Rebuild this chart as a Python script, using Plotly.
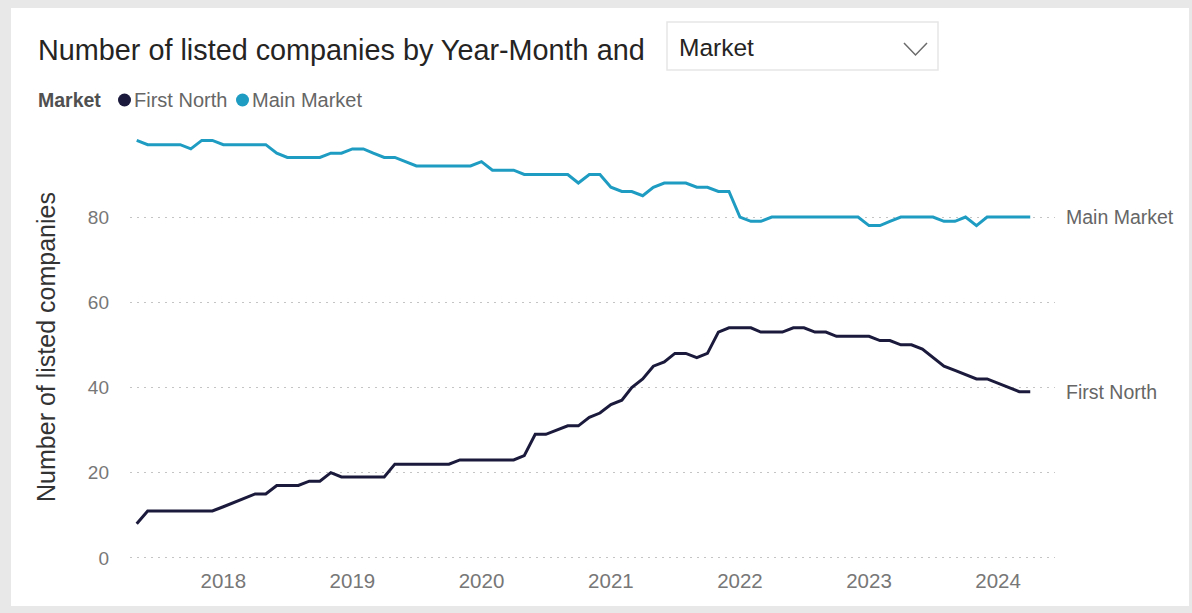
import pandas as pd
import plotly.graph_objects as go

# ---------------- data ----------------
months = pd.date_range("2017-05-01", periods=84, freq="MS")

first_north = [
    8, 11, 11, 11, 11, 11, 11, 11,                      # 2017 May-Dec
    12, 13, 14, 15, 15, 17, 17, 17, 18, 18, 20, 19,     # 2018
    19, 19, 19, 19, 22, 22, 22, 22, 22, 22, 23, 23,     # 2019
    23, 23, 23, 23, 24, 29, 29, 30, 31, 31, 33, 34,     # 2020
    36, 37, 40, 42, 45, 46, 48, 48, 47, 48, 53, 54,     # 2021
    54, 54, 53, 53, 53, 54, 54, 53, 53, 52, 52, 52,     # 2022
    52, 51, 51, 50, 50, 49, 47, 45, 44, 43, 42, 42,     # 2023
    41, 40, 39, 39,                                     # 2024 Jan-Apr
]

main_market = [
    98, 97, 97, 97, 97, 96, 98, 98,                     # 2017 May-Dec
    97, 97, 97, 97, 97, 95, 94, 94, 94, 94, 95, 95,     # 2018
    96, 96, 95, 94, 94, 93, 92, 92, 92, 92, 92, 92,     # 2019
    93, 91, 91, 91, 90, 90, 90, 90, 90, 88, 90, 90,     # 2020
    87, 86, 86, 85, 87, 88, 88, 88, 87, 87, 86, 86,     # 2021
    80, 79, 79, 80, 80, 80, 80, 80, 80, 80, 80, 80,     # 2022
    78, 78, 79, 80, 80, 80, 80, 79, 79, 80, 78, 80,     # 2023
    80, 80, 80, 80,                                     # 2024 Jan-Apr
]

series_names = ["First North", "Main Market"]
series_colors = ["#1b1a3c", "#1f9cc2"]

title_text = "Number of listed companies by Year-Month and"
dropdown_text = "Market"
legend_title = "Market"
y_title = "Number of listed companies"

# ---------------- layout geometry (pixels) ----------------
W, H = 1192, 613
ML, MR, MT, MB = 130, 137, 134, 53
PW, PH = W - ML - MR, H - MT - MB


def px(x):
    return (x - ML) / PW


def py(y):
    return (H - MB - y) / PH


FONT = "Liberation Sans, Arial, sans-serif"

fig = go.Figure()

for name, vals, col in zip(series_names, [first_north, main_market], series_colors):
    fig.add_trace(go.Scatter(
        x=months, y=vals, mode="lines", name=name,
        line=dict(color=col, width=3, shape="linear"),
        showlegend=False,
        hovertemplate="%{x|%Y %b}: %{y}<extra>" + name + "</extra>",
    ))
    # end-of-line label
    fig.add_annotation(
        x=months[-1], y=vals[-1], xref="x", yref="y",
        text=name, showarrow=False, xanchor="left", yanchor="middle",
        xshift=34, font=dict(family=FONT, size=19.5, color="#666666"),
    )

shapes = [
    # white card
    dict(type="rect", xref="paper", yref="paper", layer="below",
         x0=px(11), x1=px(1189), y0=py(606), y1=py(8),
         fillcolor="white", line=dict(width=0)),
    # dropdown box
    dict(type="rect", xref="paper", yref="paper", layer="below",
         x0=px(667), x1=px(938), y0=py(70), y1=py(22),
         fillcolor="white", line=dict(color="#e6e6e6", width=1.5)),
    # dropdown chevron
    dict(type="path", xref="paper", yref="paper",
         path=f"M {px(904)} {py(43)} L {px(915.5)} {py(55)} L {px(927)} {py(43)}",
         line=dict(color="#6b6b6b", width=1.5)),
]

annotations = [
    dict(x=px(36), y=py(50), xref="paper", yref="paper", text=title_text,
         showarrow=False, xanchor="left", yanchor="middle",
         font=dict(family=FONT, size=28.8, color="#252423")),
    dict(x=px(677), y=py(48), xref="paper", yref="paper", text=dropdown_text,
         showarrow=False, xanchor="left", yanchor="middle",
         font=dict(family=FONT, size=24.5, color="#252423")),
    dict(x=px(36), y=py(100), xref="paper", yref="paper",
         text="<b>" + legend_title + "</b>",
         showarrow=False, xanchor="left", yanchor="middle",
         font=dict(family=FONT, size=19.5, color="#505050")),
]

# legend items: coloured dot + name
legend_x = [118, 236]
for name, col, lx in zip(series_names, series_colors, legend_x):
    shapes.append(dict(type="circle", xref="paper", yref="paper",
                       x0=px(lx), x1=px(lx + 13), y0=py(106.5), y1=py(93.5),
                       fillcolor=col, line=dict(width=0)))
    annotations.append(dict(x=px(lx + 14), y=py(100), xref="paper", yref="paper",
                            text=name, showarrow=False, xanchor="left",
                            yanchor="middle",
                            font=dict(family=FONT, size=20, color="#666666")))

for a in annotations:
    fig.add_annotation(**a)

fig.update_layout(
    width=W, height=H,
    margin=dict(l=ML, r=MR, t=MT, b=MB, pad=0),
    paper_bgcolor="#e8e8e8",
    plot_bgcolor="white",
    shapes=shapes,
    font=dict(family=FONT, size=19, color="#777777"),
    showlegend=False,
    xaxis=dict(
        type="date", range=["2017-04-12", "2024-06-10"],
        dtick="M12", tick0="2018-01-01", tickformat="%Y",
        showgrid=False, zeroline=False, showline=False, ticks="",
        ticklabelstandoff=6,
        tickfont=dict(family=FONT, size=20.5, color="#777777"),
    ),
    yaxis=dict(
        range=[-0.5, 99.5], dtick=20, tick0=0,
        showgrid=True, gridcolor="#c4c4c4", griddash="2px,5px", gridwidth=1,
        zeroline=False, showline=False, ticks="",
        ticklabelstandoff=20,
        tickfont=dict(family=FONT, size=19, color="#777777"),
        title=dict(text=y_title, standoff=25,
                   font=dict(family=FONT, size=25, color="#333333")),
    ),
    hovermode="x unified",
)

fig.write_html(
    "out.html",
    config=dict(displayModeBar=False),
    post_script=(
        "document.body.style.margin='0';"
        "document.body.style.padding='0';"
        "document.body.style.background='#e8e8e8';"
        "document.body.style.overflow='hidden';"
    ),
)
